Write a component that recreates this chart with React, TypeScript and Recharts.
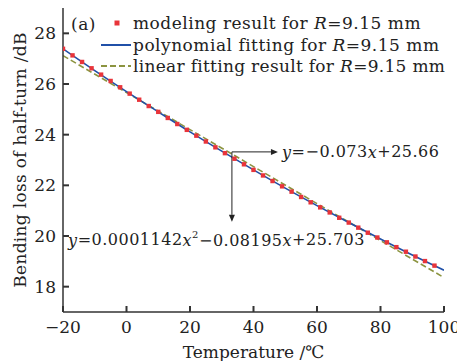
import React from 'react';
import {
  ComposedChart, Line, Scatter, XAxis, YAxis, ReferenceLine, ReferenceDot,
} from 'recharts';

const xTicks = [-20, 0, 20, 40, 60, 80, 100];
const yTicks = [18, 20, 22, 24, 26, 28];

const modelT = [-20, -17, -14, -11, -8, -5, -2, 1, 4, 7, 10, 13, 16, 19, 22, 25, 28, 31, 34, 37, 40, 43, 46, 49, 52, 55, 58, 61, 64, 67, 70, 73, 76, 79, 82, 85, 88, 91, 94, 97];
const modelLoss = [27.39, 27.13, 26.87, 26.62, 26.37, 26.12, 25.87, 25.62, 25.38, 25.13, 24.9, 24.66, 24.42, 24.19, 23.96, 23.73, 23.5, 23.27, 23.05, 22.83, 22.61, 22.39, 22.17, 21.96, 21.75, 21.54, 21.33, 21.13, 20.93, 20.72, 20.53, 20.33, 20.13, 19.94, 19.75, 19.56, 19.38, 19.19, 19.01, 18.83];

const polyT = [-20, -10, 0, 10, 20, 30, 40, 50, 60, 70, 80, 90, 100];
const polyLoss = [27.39, 26.53, 25.7, 24.9, 24.11, 23.35, 22.61, 21.89, 21.2, 20.53, 19.88, 19.25, 18.65];

const linT = [-20, 100];
const linLoss = [27.12, 18.36];

const modelData = modelT.map((x, i) => ({ x, y: modelLoss[i] }));
const polyData = polyT.map((x, i) => ({ x, y: polyLoss[i] }));
const linData = linT.map((x, i) => ({ x, y: linLoss[i] }));

const RED = '#e8343a';
const BLUE = '#2050a8';
const OLIVE = '#8c9440';
const AXIS = '#333';
const FONT = '"DejaVu Serif", serif';
const TXT = '#222';

const arrowShape = (props: any) => {
  const { x1, y1, x2, y2 } = props;
  const dx = x2 - x1;
  const dy = y2 - y1;
  const len = Math.sqrt(dx * dx + dy * dy) || 1;
  const ux = dx / len;
  const uy = dy / len;
  const hl = 7;
  const hw = 3;
  const bx = x2 - ux * hl;
  const by = y2 - uy * hl;
  return (
    <g>
      <line x1={x1} y1={y1} x2={bx} y2={by} stroke="#222" strokeWidth={1} />
      <polygon
        points={`${x2},${y2} ${bx - uy * hw},${by + ux * hw} ${bx + uy * hw},${by - ux * hw}`}
        fill="#222"
      />
    </g>
  );
};

const TL = 6;

const linLabel = (props: any) => {
  const { cx, cy } = props;
  return (
    <text x={cx} y={cy} fontFamily={FONT} fontSize={16} fill={TXT} dominantBaseline="central" letterSpacing={0.5}>
      <tspan fontStyle="italic">y</tspan>=−0.073<tspan fontStyle="italic">x</tspan>+25.66
    </text>
  );
};

const polyLabel = (props: any) => {
  const { cx, cy } = props;
  return (
    <text x={cx} y={cy} fontFamily={FONT} fontSize={16} fill={TXT} dominantBaseline="central" letterSpacing={0.5}>
      <tspan fontStyle="italic">y</tspan>=0.0001142<tspan fontStyle="italic">x</tspan>
      <tspan dy={-6} fontSize={10}>2</tspan>
      <tspan dy={6}>−0.08195</tspan><tspan fontStyle="italic">x</tspan>+25.703
    </text>
  );
};

const yLabel = (props: any) => {
  const vb = props.viewBox || {};
  const cy = (vb.y ?? 8) + (vb.height ?? 304) / 2;
  const cx = 20;
  return (
    <text x={cx} y={cy} transform={`rotate(-90, ${cx}, ${cy})`} textAnchor="middle" dominantBaseline="central" fontFamily={FONT} fontSize={17} fill={TXT} letterSpacing={0.3}>
      Bending loss of half-turn /dB
    </text>
  );
};

const XTick = (props: any) => {
  const { x, y, payload } = props;
  const v = payload.value as number;
  const s = v < 0 ? `−${Math.abs(v)}` : `${v}`;
  const xn = Number(x);
  const yn = Number(y);
  return (
    <g>
      <rect x={xn - 1} y={yn - TL} width={2} height={TL} fill={AXIS} />
      <text x={xn} y={yn + 15} textAnchor="middle" dominantBaseline="central" fontFamily={FONT} fontSize={17} fill={TXT}>{s}</text>
    </g>
  );
};

const YTick = (props: any) => {
  const { x, y, payload } = props;
  const xn = Number(x);
  const yn = Number(y);
  return (
    <g>
      <rect x={xn} y={yn - 1} width={TL} height={2} fill={AXIS} />
      <text x={xn - 7} y={yn} textAnchor="end" dominantBaseline="central" fontFamily={FONT} fontSize={17} fill={TXT}>{payload.value}</text>
    </g>
  );
};

const LegendOverlay = () => (
  <svg width={457} height={361} style={{ position: 'absolute', left: 0, top: 0, pointerEvents: 'none' }}>
    <g fontFamily={FONT} fontSize={17} fill={TXT} letterSpacing={0.5}>
      <text x={71} y={30}>(a)</text>
      <rect x={114.5} y={20.5} width={5} height={5} fill={RED} />
      <text x={133} y={29}>modeling result for <tspan fontStyle="italic">R</tspan>=9.15 mm</text>
      <line x1={101} y1={45} x2={131} y2={45} stroke={BLUE} strokeWidth={2} />
      <text x={133} y={51}>polynomial fitting for <tspan fontStyle="italic">R</tspan>=9.15 mm</text>
      <line x1={101} y1={66} x2={131} y2={66} stroke={OLIVE} strokeWidth={2} strokeDasharray="6 3" />
      <text x={133} y={72} letterSpacing={0.3}>linear fitting result for <tspan fontStyle="italic">R</tspan>=9.15 mm</text>
    </g>
  </svg>
);

export default function App() {
  return (
    <div style={{ position: 'absolute', left: 0, top: 0, width: 457, height: 361, background: '#fff' }}>
      <ComposedChart width={457} height={361} margin={{ top: 8, right: 13, bottom: 0, left: 0 }}>
        <XAxis
          xAxisId="b"
          type="number"
          dataKey="x"
          domain={[-20, 100]}
          ticks={xTicks}
          allowDataOverflow
          height={49}
          stroke={AXIS}
          strokeWidth={1.5}
          tickLine={false}
          tickSize={0}
          tickMargin={0}
          tick={(p: any) => <XTick {...p} />}
          label={{ value: 'Temperature /℃', position: 'insideBottom', offset: 3, fontFamily: FONT, fontSize: 17, fill: TXT }}
        />
        <XAxis xAxisId="t" orientation="top" type="number" domain={[-20, 100]} height={0} tick={false} tickLine={false} stroke={AXIS} strokeWidth={1.5} />
        <YAxis
          yAxisId="l"
          type="number"
          domain={[17, 29]}
          ticks={yTicks}
          allowDataOverflow
          width={63}
          stroke={AXIS}
          strokeWidth={1.5}
          tickLine={false}
          tickSize={0}
          tickMargin={0}
          tick={(p: any) => <YTick {...p} />}
          label={{ content: yLabel }}
        />
        <YAxis yAxisId="r" orientation="right" type="number" domain={[17, 29]} width={0} tick={false} tickLine={false} stroke={AXIS} strokeWidth={1.5} />
        <Line xAxisId="b" yAxisId="l" data={linData} dataKey="y" type="linear" stroke={OLIVE} strokeWidth={1.6} strokeDasharray="6 3" dot={false} isAnimationActive={false} legendType="none" />
        <Scatter xAxisId="b" yAxisId="l" data={modelData} dataKey="y" fill={RED} shape={(p: any) => <rect x={p.cx - 2.2} y={p.cy - 2.2} width={4.4} height={4.4} fill={RED} />} isAnimationActive={false} legendType="none" />
        <Line xAxisId="b" yAxisId="l" data={polyData} dataKey="y" type="monotone" stroke={BLUE} strokeWidth={1.6} dot={false} isAnimationActive={false} legendType="none" />
        <ReferenceLine xAxisId="b" yAxisId="l" segment={[{ x: 33.2, y: 23.32 }, { x: 47.7, y: 23.32 }]} shape={arrowShape} ifOverflow="visible" />
        <ReferenceLine xAxisId="b" yAxisId="l" segment={[{ x: 33.2, y: 23.32 }, { x: 33.2, y: 20.56 }]} shape={arrowShape} ifOverflow="visible" />
        <ReferenceDot xAxisId="b" yAxisId="l" x={49} y={23.32} r={0} shape={linLabel} ifOverflow="visible" />
        <ReferenceDot xAxisId="b" yAxisId="l" x={-18.4} y={19.85} r={0} shape={polyLabel} ifOverflow="visible" />
      </ComposedChart>
      <LegendOverlay />
    </div>
  );
}
